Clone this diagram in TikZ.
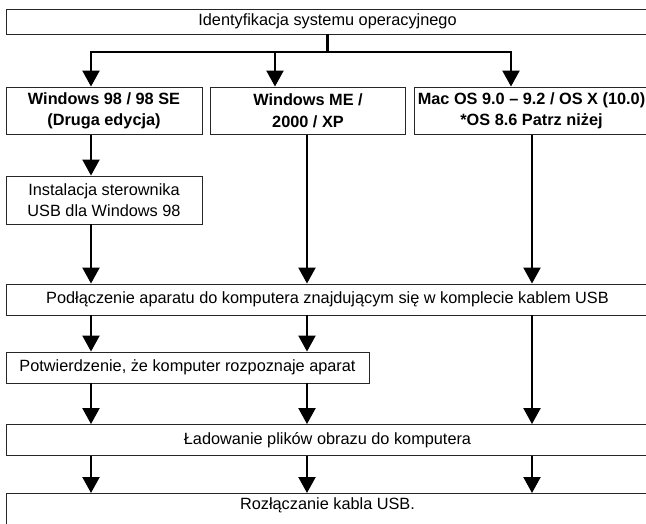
\documentclass[tikz,border=0pt]{standalone}
\usepackage{fontspec}
\setmainfont{Liberation Sans}
\usetikzlibrary{arrows.meta}
\begin{document}
\begin{tikzpicture}[x=1pt,y=-1pt,
  box/.style={draw=black!85, line width=0.9pt, inner sep=0pt, align=center,
    font=\fontsize{16.3}{21.5}\selectfont},
  bbox/.style={box, font=\bfseries\fontsize{16.3}{21.5}\selectfont},
  conn/.style={draw=black, line width=2.2pt},
  arr/.style={conn, -{Triangle[width=17pt,length=16pt]}}]
\useasboundingbox (0,0) rectangle (646,523);
\fill[white] (0,0) rectangle (646,523);
\clip (0,0) rectangle (646,523);
% column positions
\coordinate (cA) at (91,0);
\coordinate (cB) at (307,0);
\coordinate (cC) at (532,0);
\coordinate (cBin) at (275,0);
\coordinate (cCin) at (511,0);
\coordinate (br) at (0,52);
% nodes
\node[box, minimum width=643pt, minimum height=25pt] (top) at (327.5,21.5) {Identyfikacja systemu operacyjnego};
\node[bbox, minimum width=196pt, minimum height=47.5pt] (w98) at (104,110.75) {Windows 98 / 98 SE\\(Druga edycja)};
\node[bbox, minimum width=195pt, minimum height=47.5pt] (wme) at (308,110.75) {Windows ME /\\2000 / XP};
\node[bbox, minimum width=235pt, minimum height=47.5pt] (mac) at (531.5,110.75) {Mac OS 9.0 – 9.2 / OS X (10.0)\\*OS 8.6 Patrz niżej};
\node[box, minimum width=196pt, minimum height=48pt] (inst) at (104,200) {Instalacja sterownika\\USB dla Windows 98};
\node[box, minimum width=643pt, minimum height=31pt] (pod) at (327.5,299.5) {Podłączenie aparatu do komputera znajdującym się w komplecie kablem USB};
\node[box, minimum width=363pt, minimum height=31pt] (pot) at (187.5,367.5) {Potwierdzenie, że komputer rozpoznaje aparat};
\node[box, minimum width=643pt, minimum height=31pt] (lad) at (327.5,440) {Ładowanie plików obrazu do komputera};
\node[box, minimum width=643pt, anchor=north, inner ysep=0pt, text height=16pt, text depth=22pt] (roz) at (327.5,493) {Rozłączanie kabla USB.};
% connectors from the top box
\draw[arr] (top.south) |- (br -| cA) -- (cA |- w98.north);
\draw[arr] (top.south) |- (br -| cCin) -- (cCin |- mac.north);
\draw[arr] (br -| cBin) -- (cBin |- wme.north);
% Windows 98 column
\draw[arr] (cA |- w98.south) -- (cA |- inst.north);
\draw[arr] (cA |- inst.south) -- (cA |- pod.north);
\draw[arr] (cB |- wme.south) -- (cB |- pod.north);
\draw[arr] (cC |- mac.south) -- (cC |- pod.north);
% below connection
\draw[arr] (cA |- pod.south) -- (cA |- pot.north);
\draw[arr] (cB |- pod.south) -- (cB |- pot.north);
\draw[arr] (cC |- pod.south) -- (cC |- lad.north);
\draw[arr] (cA |- pot.south) -- (cA |- lad.north);
\draw[arr] (cB |- pot.south) -- (cB |- lad.north);
% to the last box
\draw[arr] (cA |- lad.south) -- (cA |- roz.north);
\draw[arr] (cB |- lad.south) -- (cB |- roz.north);
\draw[arr] (cC |- lad.south) -- (cC |- roz.north);
\end{tikzpicture}
\end{document}
